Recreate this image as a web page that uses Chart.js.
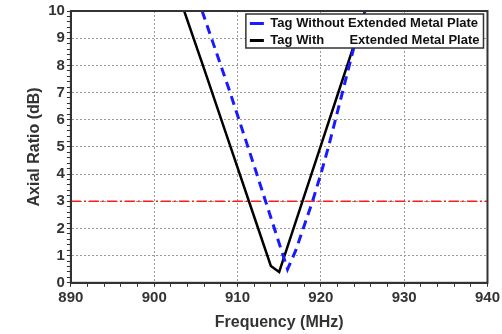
<!DOCTYPE html>
<html>
<head>
<meta charset="utf-8">
<script src="https://cdn.jsdelivr.net/npm/chart.js@4/dist/chart.umd.min.js"></script>
<style>
  html, body { margin: 0; padding: 0; background: #fff; }
  #wrap { width: 502px; height: 334px; }
</style>
</head>
<body>
<div id="wrap"><canvas id="chart"></canvas></div>
<script>
// values
const freqWithout = [905.75, 909, 912, 914, 916, 917, 918, 919, 920, 921, 922, 923, 924, 925.3];
const arWithout   = [10, 7.1, 4.3, 2.4, 0.5, 1.2, 2.1, 3.0, 4.0, 5.1, 6.3, 7.5, 8.7, 10];

const freqWith = [903.6, 906, 909, 912, 914, 915, 916, 918, 920, 922, 924, 925.3];
const arWith   = [10, 7.86, 5.15, 2.43, 0.62, 0.4, 1.33, 3.19, 5.05, 6.91, 8.77, 10];

const limitFreq = [890, 940];
const limitAR   = [3, 3];

const labelWithout = "Tag Without Extended Metal Plate";
const labelWith = "Tag With       Extended Metal Plate";

const toPoints = (xs, ys) => xs.map((x, i) => ({ x: x, y: ys[i] }));
const isMajor = (v, step) => Math.abs(v / step - Math.round(v / step)) < 1e-6;

const fam = "'Liberation Sans', Arial, sans-serif";
const tickFont = { family: fam, size: 15, weight: "bold" };
const titleFont = { family: fam, size: 16, weight: "bold" };

// legend sits in the top right corner of the plot, boxed, over the lines
const legendBox = {
  id: "legendBox",
  afterLayout(chart) {
    const lg = chart.legend;
    const a = chart.chartArea;
    const hb = lg.legendHitBoxes;
    const itemW = Math.max(...hb.map((h) => h.width));
    const pad = lg.options.labels.padding;
    const w = itemW + 2 * pad;
    lg.left = a.right - 4 - w;
    lg.right = lg.left + w;
    lg.top = a.top + 2;
    lg.bottom = a.bottom;
    lg._boxW = w;
    lg._boxH = hb[hb.length - 1].top + hb[hb.length - 1].height - hb[0].top + 4;
  },
  afterDatasetsDraw(chart) {
    const lg = chart.legend;
    const ctx = chart.ctx;
    ctx.save();
    ctx.fillStyle = "#fff";
    ctx.fillRect(lg.left, lg.top + 1, lg._boxW, lg._boxH);
    ctx.strokeStyle = "#333";
    ctx.lineWidth = 1.5;
    ctx.strokeRect(lg.left, lg.top + 1, lg._boxW, lg._boxH);
    ctx.restore();
    lg.draw();
  },
  afterDraw(chart) {
    const a = chart.chartArea;
    const ctx = chart.ctx;
    ctx.save();
    ctx.strokeStyle = "#333";
    ctx.lineWidth = 2;
    ctx.strokeRect(a.left, a.top, a.right - a.left, a.bottom - a.top);
    ctx.restore();
  }
};

new Chart(document.getElementById("chart"), {
  type: "line",
  data: {
    datasets: [
      {
        label: labelWithout,
        data: toPoints(freqWithout, arWithout),
        borderColor: "#1a1aff",
        backgroundColor: "#1a1aff",
        borderWidth: 3,
        borderDash: [9, 6],
        pointRadius: 0,
        order: 0
      },
      {
        label: labelWith,
        data: toPoints(freqWith, arWith),
        borderColor: "#000",
        backgroundColor: "#000",
        borderWidth: 2.5,
        pointRadius: 0,
        order: 1
      },
      {
        label: "limit",
        data: toPoints(limitFreq, limitAR),
        borderColor: "#ff1a1a",
        borderWidth: 1.5,
        borderDash: [10, 3, 2, 3],
        pointRadius: 0,
        order: 2
      }
    ]
  },
  options: {
    responsive: true,
    maintainAspectRatio: false,
    animation: false,
    layout: { padding: { top: 2, right: 1, left: 25, bottom: 2 } },
    plugins: {
      tooltip: { enabled: false },
      legend: {
        position: "chartArea",
        align: "start",
        labels: {
          color: "#111",
          font: { family: fam, size: 13, weight: "bold" },
          boxWidth: 14,
          boxHeight: 3,
          padding: 4,
          filter: (item) => item.text !== "limit",
          generateLabels(chart) {
            const items = Chart.defaults.plugins.legend.labels.generateLabels(chart);
            items.forEach((it) => { it.lineWidth = 0; it.fillStyle = it.strokeStyle; });
            return items;
          }
        }
      }
    },
    scales: {
      x: {
        type: "linear",
        min: 890,
        max: 940,
        ticks: {
          stepSize: 2,
          autoSkip: false,
          maxRotation: 0,
          color: "#333",
          font: tickFont,
          padding: 2,
          callback: (v) => isMajor(v, 10) ? v : ""
        },
        grid: {
          color: (c) => isMajor(c.tick.value, 10) ? "#999" : "rgba(0,0,0,0)",
          tickColor: "#333",
          tickLength: 4,
          lineWidth: 1
        },
        border: { display: true, color: "#333", width: 2, dash: [2, 2] },
        title: { display: true, text: "Frequency (MHz)", color: "#333", font: titleFont, padding: { top: 4, bottom: 0 } }
      },
      y: {
        min: 0,
        max: 10,
        ticks: {
          stepSize: 0.2,
          autoSkip: false,
          color: "#333",
          font: tickFont,
          padding: 2,
          callback: (v) => isMajor(v, 1) ? Math.round(v) : ""
        },
        grid: {
          color: (c) => isMajor(c.tick.value, 1) ? "#999" : "rgba(0,0,0,0)",
          tickColor: "#333",
          tickLength: 4,
          lineWidth: 1
        },
        border: { display: true, color: "#333", width: 2, dash: [2, 2] },
        title: { display: true, text: "Axial Ratio (dB)", color: "#333", font: titleFont, padding: { top: 0, bottom: 2 } }
      }
    }
  },
  plugins: [legendBox]
});
</script>
</body>
</html>
